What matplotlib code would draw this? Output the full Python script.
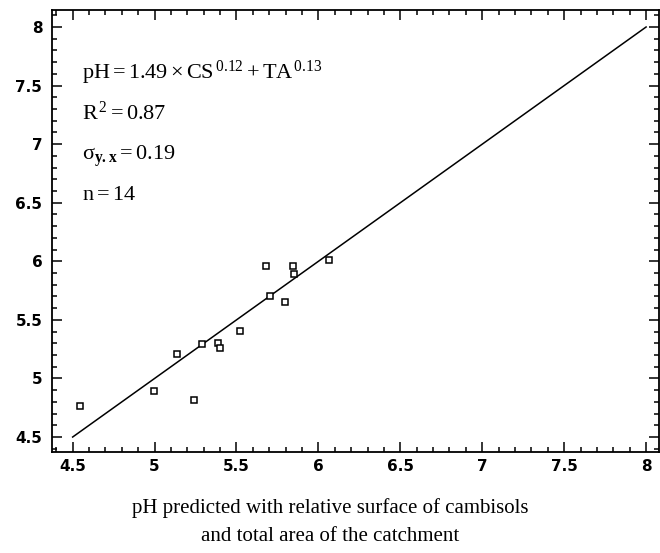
import numpy as np
import matplotlib
matplotlib.use('Agg')
import matplotlib.pyplot as plt
from matplotlib.ticker import MultipleLocator

plt.rcParams['mathtext.fontset'] = 'custom'
plt.rcParams['mathtext.rm'] = 'Liberation Serif'
plt.rcParams['mathtext.it'] = 'Liberation Serif:italic'
plt.rcParams['mathtext.bf'] = 'Liberation Serif:bold'

# predicted vs observed pH
predicted = [4.545, 4.998, 5.134, 5.240, 5.287, 5.388, 5.402,
             5.520, 5.683, 5.705, 5.795, 5.843, 5.851, 6.065]
observed = [4.761, 4.895, 5.211, 4.812, 5.297, 5.299, 5.256,
            5.404, 5.957, 5.703, 5.650, 5.957, 5.895, 6.011]

# 1:1 line
line_x = [4.5, 8.0]
line_y = [4.5, 8.0]

ticks = [4.5, 5, 5.5, 6, 6.5, 7, 7.5, 8]
tick_labels = ['4.5', '5', '5.5', '6', '6.5', '7', '7.5', '8']

fig = plt.figure(figsize=(6.6, 5.53), dpi=100)
ax = fig.add_axes([0.0788, 0.1826, 0.92, 0.7993])

ax.plot(line_x, line_y, color='black', lw=1.1)
ax.plot(predicted, observed, 's', mfc='white', mec='black', ms=4.5, mew=1.1)

ax.set_xlim(4.374, 8.08)
ax.set_ylim(4.372, 8.145)
ax.set_xticks(ticks)
ax.set_xticklabels(tick_labels)
ax.set_yticks(ticks)
ax.set_yticklabels(tick_labels)
ax.xaxis.set_minor_locator(MultipleLocator(0.1))
ax.yaxis.set_minor_locator(MultipleLocator(0.1))
ax.tick_params(which='both', direction='in', top=True, right=True, width=1.1)
ax.tick_params(which='major', length=7, labelsize=11, pad=7)
ax.tick_params(axis='x', which='major', pad=5)
ax.tick_params(which='minor', length=3.5)
for lab in ax.get_xticklabels() + ax.get_yticklabels():
    lab.set_fontweight('bold')
for s in ax.spines.values():
    s.set_linewidth(1.3)

tx = 0.05
ax.text(tx, 0.844, r'$\mathrm{pH = 1.49 \times CS^{\,0.12} + TA^{\,0.13}}$',
        transform=ax.transAxes, fontsize=16, va='baseline')
ax.text(tx, 0.751, r'$\mathrm{R^{\,2} = 0.87}$',
        transform=ax.transAxes, fontsize=16, va='baseline')
ax.text(tx, 0.661, r'$\mathrm{σ}_{\mathbf{y.x}}\mathrm{= 0.19}$',
        transform=ax.transAxes, fontsize=16, va='baseline')
ax.text(tx, 0.570, r'$\mathrm{n = 14}$',
        transform=ax.transAxes, fontsize=16, va='baseline')

fig.text(0.5, 0.056, 'pH predicted with relative surface of cambisols\nand total area of the catchment',
         ha='center', va='center', fontsize=15, family='Liberation Serif', linespacing=1.7)

fig.savefig('out.png', dpi=100)
